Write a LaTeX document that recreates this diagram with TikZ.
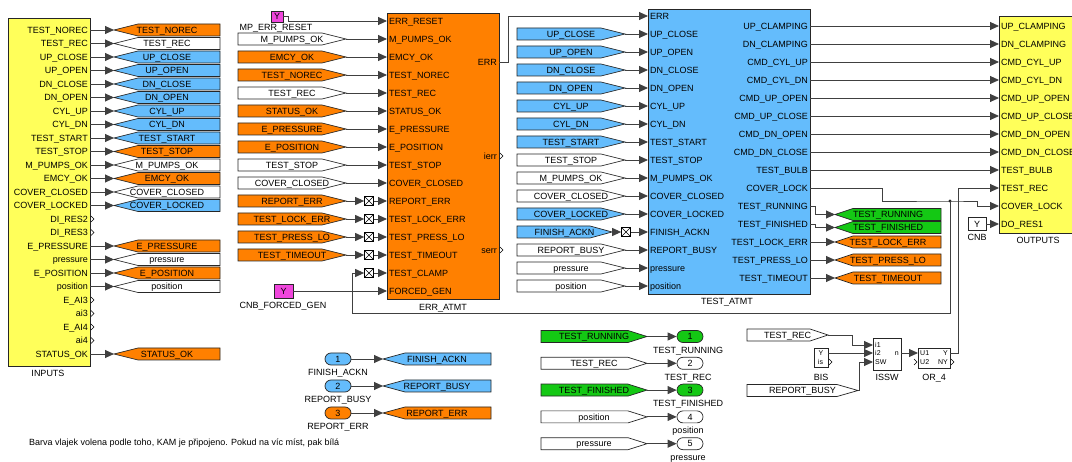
\documentclass[tikz,border=0pt]{standalone}
\usepackage{fontspec}
\setmainfont{Liberation Sans}
\usepackage{tikz}
\usetikzlibrary{arrows.meta, positioning, calc}
\definecolor{blkyellow}{RGB}{255,255,90}
\definecolor{blkorange}{RGB}{255,128,0}
\definecolor{blkblue}{RGB}{100,188,252}
\definecolor{flaggreen}{RGB}{20,200,20}
\definecolor{constpink}{RGB}{240,70,220}

% goto flag (points left): name, fill, tip x, shoulder x, right x, y, text
\newcommand{\gotoflag}[7]{%
  \filldraw[flagline, fill=#2] (#3,#6) -- (#4,#6-6) -- (#5,#6-6) -- (#5,#6+6) -- (#4,#6+6) -- cycle;
  \coordinate (#1) at (#3,#6);
  \node[txt] (#1-t) at ({(#3+#5)/2},#6) {#7};}
% from flag (points right): name, fill, left x, shoulder x, tip x, y, text
\newcommand{\fromflag}[7]{%
  \filldraw[flagline, fill=#2] (#3,#6-6) -- (#4,#6-6) -- (#5,#6) -- (#4,#6+6) -- (#3,#6+6) -- cycle;
  \coordinate (#1) at (#5,#6);
  \node[txt] (#1-t) at ({(#3+#5)/2},#6) {#7};}

\begin{document}
\begin{tikzpicture}[
    x=1pt, y=-1pt,
    font=\fontsize{9}{10}\selectfont,
    wire/.style={draw=black!75, line width=0.9pt},
    arr/.style={wire, -{Triangle[length=9pt, width=8pt]}},
    block/.style={draw=black!85, line width=0.8pt, inner sep=0pt},
    txt/.style={inner sep=0pt, text height=6.5pt, text depth=0pt},
    small/.style={inner sep=0pt, font=\fontsize{7}{8}\selectfont, text height=5pt, text depth=0pt},
    flagline/.style={draw=black!85, line width=0.7pt},
    xbox/.style={draw=black, line width=0.7pt, fill=white, minimum size=9pt, inner sep=0pt,
        path picture={\draw[line width=0.6pt] (path picture bounding box.south west) -- (path picture bounding box.north east)
        (path picture bounding box.north west) -- (path picture bounding box.south east);}},
    ioport/.style={txt, draw=black!85, line width=0.7pt, rounded corners=6pt, minimum width=26pt, minimum height=12pt},
    ybox/.style={txt, draw=black!85, line width=0.8pt},
    openend/.style={draw=black, line width=0.5pt},
]
    \useasboundingbox (0,0) rectangle (1072,462);
    \clip (0,0) rectangle (1072,462);

    % INPUTS
    \node[block, fill=blkyellow, minimum width=82pt, minimum height=348pt] (INPUTS) at (49,192) {};
    \node[txt] (INPUTS-l) at (48,373) {INPUTS};
    \foreach \lab [count=\i] in {TEST\_NOREC, TEST\_REC, UP\_CLOSE, UP\_OPEN, DN\_CLOSE, DN\_OPEN, CYL\_UP, CYL\_DN,
        TEST\_START, TEST\_STOP, M\_PUMPS\_OK, EMCY\_OK, COVER\_CLOSED, COVER\_LOCKED, DI\_RES2, DI\_RES3,
        E\_PRESSURE, pressure, E\_POSITION, position, E\_AI3, ai3, E\_AI4, ai4, STATUS\_OK} {
        \coordinate (in-\i) at (90,16.5+13.5*\i);
        \node[txt, anchor=east] (in-\i-l) at (88,16.5+13.5*\i) {\lab};
    }
    \foreach \i in {15,16,21,22,23,24}
        \draw[openend] ($(in-\i)+(1,-3)$) -- ++(3,3) -- ++(-3,3);

    % goto flags of INPUTS
    \foreach \i/\col/\lbl in {1/blkorange/TEST\_NOREC, 2/white/TEST\_REC, 3/blkblue/UP\_CLOSE, 4/blkblue/UP\_OPEN,
        5/blkblue/DN\_CLOSE, 6/blkblue/DN\_OPEN, 7/blkblue/CYL\_UP, 8/blkblue/CYL\_DN, 9/blkblue/TEST\_START,
        10/blkorange/TEST\_STOP, 11/white/M\_PUMPS\_OK, 12/blkorange/EMCY\_OK, 13/white/COVER\_CLOSED,
        14/blkblue/COVER\_LOCKED, 17/blkorange/E\_PRESSURE, 18/white/pressure, 19/blkorange/E\_POSITION,
        20/white/position, 25/blkorange/STATUS\_OK} {
        \pgfmathsetmacro\yy{16.5+13.5*\i}
        \gotoflag{gi-\i}{\col}{114}{138}{220}{\yy}{\lbl}
        \draw[arr] (in-\i) -- (gi-\i);
    }

    % ERR_ATMT
    \node[block, fill=blkorange, minimum width=112pt, minimum height=286pt] (ERRA) at (443,156) {};
    \node[txt] (ERRA-l) at (443,307) {ERR\_ATMT};
    \foreach \lab [count=\j] in {ERR\_RESET, M\_PUMPS\_OK, EMCY\_OK, TEST\_NOREC, TEST\_REC, STATUS\_OK, E\_PRESSURE,
        E\_POSITION, TEST\_STOP, COVER\_CLOSED, REPORT\_ERR, TEST\_LOCK\_ERR, TEST\_PRESS\_LO, TEST\_TIMEOUT,
        TEST\_CLAMP, FORCED\_GEN} {
        \coordinate (ea-\j) at (387,3+18*\j);
        \node[txt, anchor=west] (ea-\j-l) at (389,3+18*\j) {\lab};
    }
    \foreach \o/\lab/\yy in {1/ERR/62, 2/ierr/156, 3/serr/250} {
        \coordinate (eo-\o) at (499,\yy);
        \node[txt, anchor=east] (eo-\o-l) at (497,\yy) {\lab};
    }
    \foreach \o in {2,3}
        \draw[openend] ($(eo-\o)+(1,-3)$) -- ++(3,3) -- ++(-3,3);

    % from flags of ERR_ATMT
    \foreach \j/\col/\lbl in {2/white/M\_PUMPS\_OK, 3/blkorange/EMCY\_OK, 4/blkorange/TEST\_NOREC, 5/white/TEST\_REC,
        6/blkorange/STATUS\_OK, 7/blkorange/E\_PRESSURE, 8/blkorange/E\_POSITION, 9/white/TEST\_STOP,
        10/white/COVER\_CLOSED, 11/blkorange/REPORT\_ERR, 12/blkorange/TEST\_LOCK\_ERR,
        13/blkorange/TEST\_PRESS\_LO, 14/blkorange/TEST\_TIMEOUT} {
        \pgfmathsetmacro\yy{3+18*\j}
        \fromflag{fe-\j}{\col}{238}{322}{346}{\yy}{\lbl}
    }
    \foreach \j in {2,...,10}
        \draw[arr] (fe-\j) -- (ea-\j);
    \foreach \j in {11,...,15}
        \node[xbox] (xe-\j) at (369,3+18*\j) {};
    \foreach \j in {11,...,14}
        \draw[arr] (fe-\j) -- (xe-\j);
    \foreach \j in {11,...,15}
        \draw[arr] (xe-\j) -- (ea-\j);

    % constants
    \node[ybox, fill=constpink, minimum width=12pt, minimum height=11pt] (yreset) at (277,16.5) {Y};
    \node[txt] (yreset-l) at (276,27.5) {MP\_ERR\_RESET};
    \draw[arr] (yreset) -- ++(11,0) |- (ea-1);
    \node[ybox, fill=constpink, minimum width=19pt, minimum height=14pt] (ygen) at (283.5,291) {Y};
    \node[txt] (ygen-l) at (283,305) {CNB\_FORCED\_GEN};
    \draw[arr] (ygen) -- (ea-16);

    % TEST_ATMT
    \node[block, fill=blkblue, minimum width=162pt, minimum height=285pt] (TESTA) at (729,151.5) {};
    \node[txt] (TESTA-l) at (727,301) {TEST\_ATMT};
    \foreach \lab [count=\k] in {ERR, UP\_CLOSE, UP\_OPEN, DN\_CLOSE, DN\_OPEN, CYL\_UP, CYL\_DN, TEST\_START,
        TEST\_STOP, M\_PUMPS\_OK, COVER\_CLOSED, COVER\_LOCKED, FINISH\_ACKN, REPORT\_BUSY, pressure, position} {
        \coordinate (ta-\k) at (648,-2+18*\k);
        \node[txt, anchor=west] (ta-\k-l) at (650,-2+18*\k) {\lab};
    }
    \foreach \lab [count=\m] in {UP\_CLAMPING, DN\_CLAMPING, CMD\_CYL\_UP, CMD\_CYL\_DN, CMD\_UP\_OPEN, CMD\_UP\_CLOSE,
        CMD\_DN\_OPEN, CMD\_DN\_CLOSE, TEST\_BULB, COVER\_LOCK, TEST\_RUNNING, TEST\_FINISHED, TEST\_LOCK\_ERR,
        TEST\_PRESS\_LO, TEST\_TIMEOUT} {
        \coordinate (to-\m) at (810,8+18*\m);
        \node[txt, anchor=east] (to-\m-l) at (808,8+18*\m) {\lab};
    }
    \draw[arr] (eo-1) -- ++(9,0) |- (ta-1);

    % from flags of TEST_ATMT
    \foreach \k/\col/\lbl in {2/blkblue/UP\_CLOSE, 3/blkblue/UP\_OPEN, 4/blkblue/DN\_CLOSE, 5/blkblue/DN\_OPEN,
        6/blkblue/CYL\_UP, 7/blkblue/CYL\_DN, 8/blkblue/TEST\_START, 9/white/TEST\_STOP, 10/white/M\_PUMPS\_OK,
        11/white/COVER\_CLOSED, 12/blkblue/COVER\_LOCKED, 14/white/REPORT\_BUSY, 15/white/pressure,
        16/white/position} {
        \pgfmathsetmacro\yy{-2+18*\k}
        \fromflag{ft-\k}{\col}{517}{601}{625}{\yy}{\lbl}
        \draw[arr] (ft-\k) -- (ta-\k);
    }
    \fromflag{ft-13}{blkblue}{517}{590}{612}{232}{FINISH\_ACKN}
    \node[xbox] (xt-13) at (626,232) {};
    \draw[arr] (ft-13) -- (xt-13);
    \draw[arr] (xt-13) -- (ta-13);

    % OUTPUTS
    \node[block, fill=blkyellow, minimum width=91pt, minimum height=217pt] (OUTPUTS) at (1044.5,124.5) {};
    \node[txt] (OUTPUTS-l) at (1038,240) {OUTPUTS};
    \foreach \lab [count=\n] in {UP\_CLAMPING, DN\_CLAMPING, CMD\_CYL\_UP, CMD\_CYL\_DN, CMD\_UP\_OPEN, CMD\_UP\_CLOSE,
        CMD\_DN\_OPEN, CMD\_DN\_CLOSE, TEST\_BULB, TEST\_REC, COVER\_LOCK, DO\_RES1} {
        \coordinate (oi-\n) at (999,8+18*\n);
        \node[txt, anchor=west] (oi-\n-l) at (1001,8+18*\n) {\lab};
    }
    \foreach \m in {1,...,9}
        \draw[arr] (to-\m) -- (oi-\m);
    \node[ybox, fill=white, minimum width=18pt, minimum height=13pt] (ycnb) at (977,224) {Y};
    \node[txt] (ycnb-l) at (977,237) {CNB};
    \draw[arr] (ycnb) -- (oi-12);

    % COVER_LOCK and its branch to TEST_CLAMP
    \coordinate (jct) at (950,201);
    \draw[arr] (to-10) -- ++(72,0) |- (jct) -- ++(27,0) |- (oi-11);
    \fill[black!85] (jct) circle (1.6);
    \draw[arr] (jct) -- ++(0,112) -| ($(xe-15)+(-17,0)$) -- (xe-15);

    % goto flags of TEST_ATMT
    \foreach \m/\col/\lbl/\yy in {11/flaggreen/TEST\_RUNNING/214.5, 12/flaggreen/TEST\_FINISHED/227.5,
        13/blkorange/TEST\_LOCK\_ERR/242, 14/blkorange/TEST\_PRESS\_LO/260, 15/blkorange/TEST\_TIMEOUT/278}
        \gotoflag{gt-\m}{\col}{835}{853}{941}{\yy}{\lbl};
    \draw[arr] (to-11) -- ++(5,0) |- (gt-11);
    \draw[arr] (to-12) -- ++(5,0) |- (gt-12);
    \foreach \m in {13,14,15}
        \draw[arr] (to-\m) -- (gt-\m);

    % input ports
    \foreach \i/\col/\lbl/\yy in {1/blkblue/FINISH\_ACKN/359, 2/blkblue/REPORT\_BUSY/386, 3/blkorange/REPORT\_ERR/413} {
        \node[ioport, fill=\col] (ip-\i) at (338,\yy) {\i};
        \node[txt] (ip-\i-l) at (338,\yy+13) {\lbl};
        \gotoflag{gb-\i}{\col}{383}{405}{491}{\yy}{\lbl}
        \draw[arr] (ip-\i) -- (gb-\i);
    }

    % output ports
    \foreach \i/\col/\lbl in {1/flaggreen/TEST\_RUNNING, 2/white/TEST\_REC, 3/flaggreen/TEST\_FINISHED,
        4/white/position, 5/white/pressure} {
        \pgfmathsetmacro\yy{309.7+26.8*\i}
        \fromflag{fb-\i}{\col}{541}{628}{647}{\yy}{\lbl}
        \node[ioport, fill=\col] (op-\i) at (690,\yy) {\i};
        \node[txt] (op-\i-l) at (688,\yy+13.5) {\lbl};
        \draw[arr] (fb-\i) -- (op-\i);
    }

    % BIS, ISSW, OR_4
    \fromflag{fr-1}{white}{747}{810}{828}{335}{TEST\_REC}
    \fromflag{fr-2}{white}{747}{837}{858}{390.5}{REPORT\_BUSY}

    \node[block, fill=white, minimum width=14pt, minimum height=19pt] (BIS) at (821,357.5) {};
    \node[small] (BIS-y) at (821,353) {Y};
    \node[small] (BIS-is) at (820.5,362) {is};
    \node[txt] (BIS-l) at (821,377) {BIS};
    \coordinate (bis-o1) at (828,353);
    \coordinate (bis-o2) at (828,362);

    \node[block, fill=white, minimum width=28pt, minimum height=32pt] (ISSW) at (887,354) {};
    \node[small, anchor=west] (ISSW-i1) at (875,345) {i1};
    \node[small, anchor=west] (ISSW-i2) at (875,353) {i2};
    \node[small, anchor=west] (ISSW-sw) at (875,362) {SW};
    \node[small, anchor=east] (ISSW-n) at (899,353) {n};
    \node[txt] (ISSW-l) at (887,377) {ISSW};
    \coordinate (issw-1) at (873,345);
    \coordinate (issw-2) at (873,353);
    \coordinate (issw-3) at (873,362);
    \coordinate (issw-o) at (901,353);

    \node[block, fill=white, minimum width=32pt, minimum height=20pt] (OR4) at (934,358) {};
    \node[small, anchor=west] (OR4-u1) at (920,353) {U1};
    \node[small, anchor=west] (OR4-u2) at (920,362) {U2};
    \node[small, anchor=east] (OR4-y) at (948,353) {Y};
    \node[small, anchor=east] (OR4-ny) at (948,362) {NY};
    \node[txt] (OR4-l) at (934,377) {OR\_4};
    \coordinate (or-1) at (918,353);
    \coordinate (or-2) at (918,362);
    \coordinate (or-y) at (950,353);
    \coordinate (or-ny) at (950,362);

    \draw[openend] ($(bis-o2)+(1,-3)$) -- ++(3,3) -- ++(-3,3);
    \draw[openend] ($(or-ny)+(1,-3)$) -- ++(3,3) -- ++(-3,3);
    \draw[openend] ($(or-2)+(-4,-3)$) -- ++(3,3) -- ++(-3,3);

    \draw[arr] (fr-1) -- ++(24,0) |- (issw-1);
    \draw[arr] (bis-o1) -- (issw-2);
    \draw[arr] (fr-2) -- ++(1,0) |- (issw-3);
    \draw[arr] (issw-o) -- (or-1);
    \draw[arr] (or-y) -- ++(8,0) |- (oi-10);

    % note
    \node[txt, anchor=west] (note) at (29,442) {Barva vlajek volena podle toho, KAM je připojeno. Pokud na víc míst, pak bílá};

\end{tikzpicture}
\end{document}
